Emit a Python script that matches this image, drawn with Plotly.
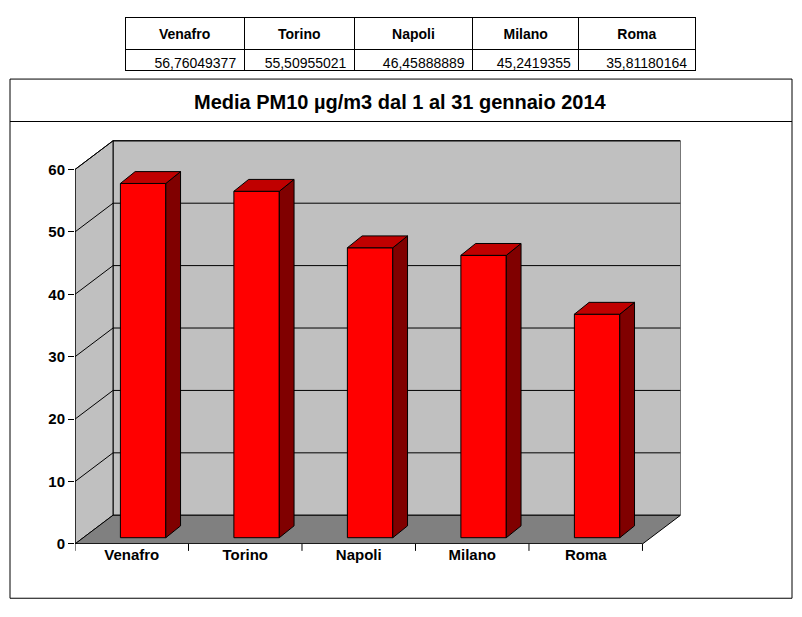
import plotly.graph_objects as go

cities = ["Venafro", "Torino", "Napoli", "Milano", "Roma"]
pm10 = [56.76049377, 55.50955021, 46.45888889, 45.2419355, 35.81180164]
table_text = ["56,76049377", "55,50955021", "46,45888889", "45,2419355", "35,81180164"]
yticks = [0, 10, 20, 30, 40, 50, 60]

W, H, OFF = 802, 617, 8
def px(p): return (p - OFF) / W
def py(p): return 1 - (p - OFF) / H

DX, DY = 0.335, 4.6
BO, BB = 0.1, 1.0
BW, BDX, BDY = 0.4, 0.13, 1.9
n = len(cities)

fig = go.Figure()

def poly(xs, ys, fill, line="black", w=1):
    fig.add_trace(go.Scatter(x=xs + [xs[0]], y=ys + [ys[0]], mode="lines", fill="toself",
                             fillcolor=fill, line=dict(color=line, width=w),
                             hoverinfo="skip", showlegend=False))

x0, x1, ytop = -0.5, n - 0.5, yticks[-1]
poly([x0 + DX, x1 + DX, x1 + DX, x0 + DX], [DY, DY, ytop + DY, ytop + DY], "#c0c0c0")
poly([x0, x0 + DX, x0 + DX, x0], [0, DY, ytop + DY, ytop], "#c0c0c0")
poly([x0, x1, x1 + DX, x0 + DX], [0, 0, DY, DY], "#808080")
for t in yticks[1:]:
    fig.add_trace(go.Scatter(x=[x0, x0 + DX, x1 + DX], y=[t, t + DY, t + DY], mode="lines",
                             line=dict(color="black", width=1), hoverinfo="skip", showlegend=False))

for i, v in enumerate(pm10):
    c = i + BO
    poly([c - BW/2, c + BW/2, c + BW/2, c - BW/2], [BB, BB, v + BB, v + BB], "#ff0000")
    poly([c + BW/2, c + BW/2 + BDX, c + BW/2 + BDX, c + BW/2], [BB, BB + BDY, v + BB + BDY, v + BB], "#800000")
    poly([c - BW/2, c + BW/2, c + BW/2 + BDX, c - BW/2 + BDX], [v + BB, v + BB, v + BB + BDY, v + BB + BDY], "#c00000")

fig.add_trace(go.Table(
    domain=dict(x=[px(125), px(695)], y=[py(75), py(18)]),
    columnwidth=[119, 110, 118, 106, 116],
    header=dict(values=["<b>%s</b>" % c for c in cities], align="center", height=21,
                fill_color="white", line_color="black", font=dict(family="Arial", size=14, color="black")),
    cells=dict(values=[[t] for t in table_text], align="right", height=21,
               fill_color="white", line_color="black", font=dict(family="Arial", size=14, color="black")),
))

shapes = [
    dict(type="rect", xref="paper", yref="paper", x0=px(10), x1=px(792), y0=py(606), y1=py(80),
         line=dict(color="black", width=1)),
    dict(type="line", xref="paper", yref="paper", x0=px(10), x1=px(792), y0=py(123), y1=py(123),
         line=dict(color="black", width=1)),
    dict(type="line", xref="x", yref="y", x0=x0, x1=x1, y0=0, y1=0, line=dict(color="black", width=1)),
    dict(type="line", xref="x", yref="y", x0=x0, x1=x0, y0=0, y1=ytop, line=dict(color="black", width=1)),
]
for k in range(n + 1):
    shapes.append(dict(type="line", xref="x", yref="paper", x0=k - 0.5, x1=k - 0.5,
                       y0=py(551), y1=py(558), line=dict(color="black", width=1)))

fig.update_layout(
    width=W, height=H, margin=dict(l=0, r=0, t=0, b=0),
    paper_bgcolor="white", plot_bgcolor="white",
    shapes=shapes,
    annotations=[dict(text="<b>Media PM10 µg/m3 dal 1 al 31 gennaio 2014</b>", xref="paper", yref="paper",
                      x=px(400), y=py(103), yanchor="middle", showarrow=False,
                      font=dict(family="Arial", size=20, color="black"))],
    xaxis=dict(domain=[px(75), px(680.5)], range=[x0, x1 + DX], tickvals=list(range(n)),
               ticktext=["<b>%s</b>" % c for c in cities],
               showgrid=False, zeroline=False, ticks="", fixedrange=True,
               tickfont=dict(family="Arial", size=15, color="black")),
    yaxis=dict(domain=[py(551), py(140)], range=[0, ytop + DY + 0.4], tickvals=yticks,
               ticktext=["<b>%d</b>" % t for t in yticks],
               showgrid=False, zeroline=False, ticks="outside", ticklen=6, tickcolor="black",
               tickfont=dict(family="Arial", size=15, color="black")),
)
fig.write_html("out.html")
